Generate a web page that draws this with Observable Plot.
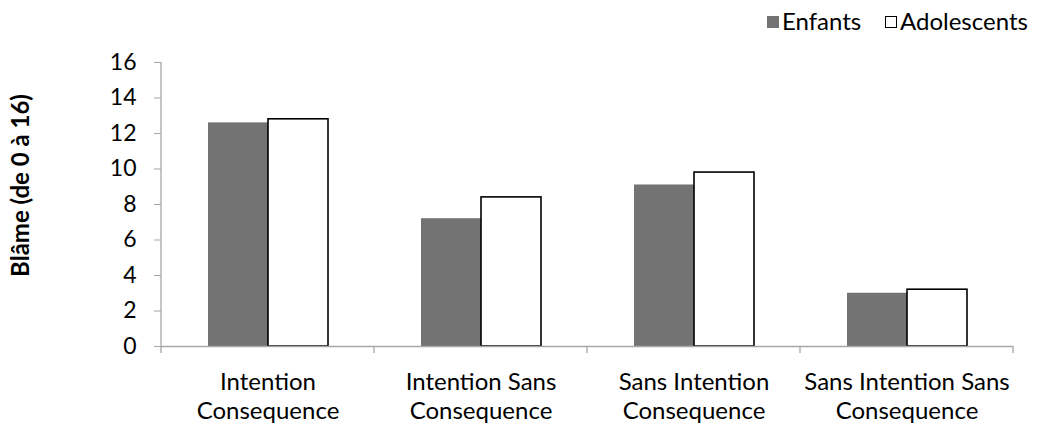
<!DOCTYPE html>
<html><head><meta charset="utf-8">
<script src="https://cdn.jsdelivr.net/npm/d3@7"></script>
<script src="https://cdn.jsdelivr.net/npm/@observablehq/plot@0.6"></script>
<style>
body{margin:0;background:#fff;font-family:Lato,sans-serif;}
#legend{position:relative;height:40px;width:1040px;font-size:24px;color:#000;}
.sw{position:absolute;top:16px;width:12px;height:12px;box-sizing:border-box;}
.lt{position:absolute;top:7px;line-height:28px;}
</style></head><body>
<div id="legend">
  <div class="sw" style="left:767px;background:#737373"></div><div class="lt" style="left:782px">Enfants</div>
  <div class="sw" style="left:885px;background:#fff;border:1.5px solid #000"></div><div class="lt" style="left:900px">Adolescents</div>
</div>
<div id="chart"></div>
<script>
const categories = ["Intention Consequence", "Intention Sans Consequence", "Sans Intention Consequence", "Sans Intention Sans Consequence"];
const categoryLabels = ["Intention\nConsequence", "Intention Sans\nConsequence", "Sans Intention\nConsequence", "Sans Intention Sans\nConsequence"];
const series = ["Enfants", "Adolescents"];
const enfants = [12.6, 7.2, 9.1, 3.0];
const adolescents = [12.8, 8.4, 9.8, 3.2];
const yTicks = [0, 2, 4, 6, 8, 10, 12, 14, 16];
const yTitle = "Blâme (de 0 à 16)";

const rows = [];
categories.forEach((c, i) => {
  rows.push({category: c, series: series[0], value: enfants[i]});
  rows.push({category: c, series: series[1], value: adolescents[i]});
});
const labelOf = new Map(categories.map((c, i) => [c, categoryLabels[i]]));

const axisColor = "#a6a6a6";

const chart = Plot.plot({
  width: 1040,
  height: 389,
  marginTop: 22,
  marginBottom: 83,
  marginLeft: 160,
  marginRight: 27,
  style: {fontFamily: "Lato, sans-serif", fontSize: "23px", color: "#000", background: "#fff", overflow: "visible"},
  fx: {domain: categories, padding: 0, label: null},
  x: {domain: series, paddingInner: 0, paddingOuter: 0.746, axis: null},
  y: {domain: [0, 16], label: null},
  marks: [
    Plot.axisFx({anchor: "bottom", tickSize: 0, tickPadding: 23, tickFormat: d => labelOf.get(d), lineHeight: 1.2, fontSize: 24, label: null, textAnchor: "middle"}),
    Plot.axisY({ticks: yTicks, tickSize: 7, tickPadding: 18, stroke: axisColor, fill: "#000", fontSize: 23, label: null}),
    Plot.barY(rows.filter(d => d.series === series[0]), {fx: "category", x: "series", y: "value", fill: "#737373"}),
    Plot.barY(rows.filter(d => d.series === series[1]), {fx: "category", x: "series", y: "value", fill: "#fff", stroke: "#000", strokeWidth: 1.6}),
    Plot.ruleY([0], {stroke: axisColor, strokeWidth: 1.3}),
    Plot.text([categories[0]], {fx: d => d, text: () => yTitle, frameAnchor: "left", rotate: -90, dx: -140, dy: -19, fontWeight: "bold", fontSize: 24, textAnchor: "middle", lineAnchor: "middle"})
  ]
});

// Axis line and category boundary ticks, positioned through Plot's own scales
const fx = chart.scale("fx"), ys = chart.scale("y");
const y0 = ys.apply(0), yTop = ys.apply(yTicks[yTicks.length - 1]);
const edges = categories.map(c => fx.apply(c));
edges.push(fx.apply(categories[categories.length - 1]) + fx.bandwidth);
const g = d3.select(chart).append("g").attr("stroke", axisColor).attr("stroke-width", 1.3);
g.append("line").attr("x1", edges[0]).attr("x2", edges[0]).attr("y1", y0).attr("y2", yTop);
for (const e of edges) g.append("line").attr("x1", e).attr("x2", e).attr("y1", y0).attr("y2", y0 + 7);

document.getElementById("chart").appendChild(chart);
</script>
</body></html>
